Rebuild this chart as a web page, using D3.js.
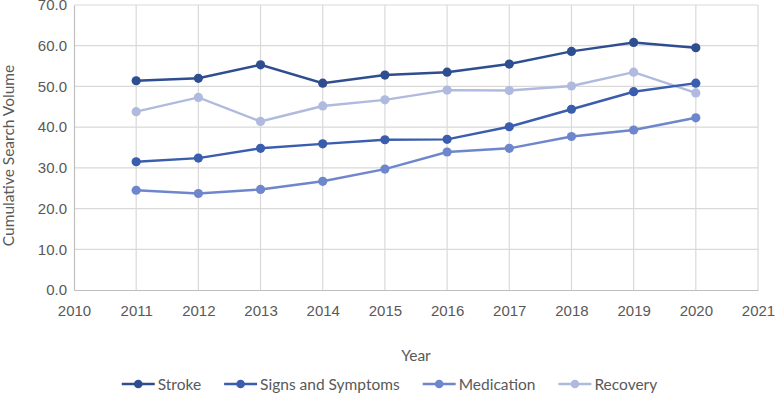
<!DOCTYPE html>
<html>
<head>
<meta charset="utf-8">
<script src="https://cdn.jsdelivr.net/npm/d3@7"></script>
<style>
  body { margin: 0; background: #fff; }
  svg { font-family: Lato, "Open Sans", sans-serif; }
</style>
</head>
<body>
<div id="chart"></div>
<script>
// data
var years = [2011, 2012, 2013, 2014, 2015, 2016, 2017, 2018, 2019, 2020];
var seriesNames = ["Stroke", "Signs and Symptoms", "Medication", "Recovery"];
var stroke     = [51.4, 52.0, 55.3, 50.8, 52.8, 53.5, 55.5, 58.6, 60.8, 59.5];
var signs      = [31.5, 32.4, 34.8, 35.9, 36.9, 37.0, 40.1, 44.4, 48.7, 50.8];
var medication = [24.5, 23.7, 24.7, 26.7, 29.7, 33.9, 34.8, 37.7, 39.3, 42.3];
var recovery   = [43.8, 47.3, 41.4, 45.2, 46.7, 49.1, 49.0, 50.1, 53.5, 48.4];
var yTicks = [0, 10, 20, 30, 40, 50, 60, 70];
var xTicks = [2010, 2011, 2012, 2013, 2014, 2015, 2016, 2017, 2018, 2019, 2020, 2021];

var colors = ["#2e4e8f", "#3a5dae", "#6e86cc", "#b0bade"];

var W = 775, H = 394;
var margin = { top: 5, right: 17, bottom: 104, left: 74 };
var width = W - margin.left - margin.right,
    height = H - margin.top - margin.bottom;

var svg = d3.select("#chart").append("svg")
    .attr("width", W)
    .attr("height", H);

var g = svg.append("g")
    .attr("transform", "translate(" + margin.left + "," + margin.top + ")");

var x = d3.scaleLinear().domain([2010, 2021]).range([0, width]);
var y = d3.scaleLinear().domain([0, 70]).range([height, 0]);

// gridlines
g.append("g").selectAll("line.h")
  .data(yTicks.slice(1))
  .enter().append("line")
  .attr("x1", 0).attr("x2", width)
  .attr("y1", function(d){ return y(d); }).attr("y2", function(d){ return y(d); })
  .attr("stroke", "#d9d9d9").attr("stroke-width", 1.2);

g.append("g").selectAll("line.v")
  .data(xTicks.slice(1))
  .enter().append("line")
  .attr("y1", 0).attr("y2", height)
  .attr("x1", function(d){ return x(d); }).attr("x2", function(d){ return x(d); })
  .attr("stroke", "#d9d9d9").attr("stroke-width", 1.2);

// axes
var xAxis = d3.axisBottom(x).tickValues(xTicks).tickFormat(d3.format("d")).tickSize(0).tickPadding(15);
var yAxis = d3.axisLeft(y).tickValues(yTicks).tickFormat(d3.format(".1f")).tickSize(0).tickPadding(7);

var gx = g.append("g").attr("transform", "translate(0," + height + ")").call(xAxis);
var gy = g.append("g").call(yAxis);
[gx, gy].forEach(function(a){
  a.select(".domain").attr("stroke", "#bfbfbf").attr("stroke-width", 1.2);
  a.selectAll("text").attr("fill", "#595959").style("font-size", "15px");
});

// axis titles
svg.append("text")
  .attr("x", margin.left + width / 2)
  .attr("y", 361)
  .attr("text-anchor", "middle")
  .attr("fill", "#595959")
  .style("font-size", "15.5px")
  .text("Year");

svg.append("text")
  .attr("transform", "translate(14," + (margin.top + height / 2 + 8) + ") rotate(-90)")
  .attr("text-anchor", "middle")
  .attr("fill", "#595959")
  .style("font-size", "15.5px")
  .text("Cumulative Search Volume");

// series
var allSeries = [stroke, signs, medication, recovery];
var line = d3.line()
  .x(function(d, i){ return x(years[i]); })
  .y(function(d){ return y(d); });

// draw lighter ones first so darker sit on top
for (var s = allSeries.length - 1; s >= 0; s--) {
  var sg = g.append("g");
  sg.append("path")
    .datum(allSeries[s])
    .attr("d", line)
    .attr("fill", "none")
    .attr("stroke", colors[s])
    .attr("stroke-width", 2.4);
  sg.selectAll("circle")
    .data(allSeries[s])
    .enter().append("circle")
    .attr("cx", function(d, i){ return x(years[i]); })
    .attr("cy", function(d){ return y(d); })
    .attr("r", 4.6)
    .attr("fill", colors[s]);
}

// legend
var legend = svg.append("g").attr("transform", "translate(0,384)");
var lx = 0;
var items = [];
seriesNames.forEach(function(name, i){
  var it = legend.append("g");
  it.append("line").attr("x1", 0).attr("x2", 33).attr("y1", 0).attr("y2", 0)
    .attr("stroke", colors[i]).attr("stroke-width", 2.4);
  it.append("circle").attr("cx", 16.5).attr("cy", 0).attr("r", 4.3).attr("fill", colors[i]);
  var t = it.append("text").attr("x", 36).attr("y", 5.5)
    .attr("fill", "#595959").style("font-size", "15.5px").text(name);
  var w = 36 + t.node().getComputedTextLength();
  items.push({ g: it, w: w });
});
var gap = 23;
var total = d3.sum(items, function(d){ return d.w; }) + gap * (items.length - 1);
lx = (W - total) / 2 + 2;
items.forEach(function(d){
  d.g.attr("transform", "translate(" + lx + ",0)");
  lx += d.w + gap;
});
</script>
</body>
</html>
